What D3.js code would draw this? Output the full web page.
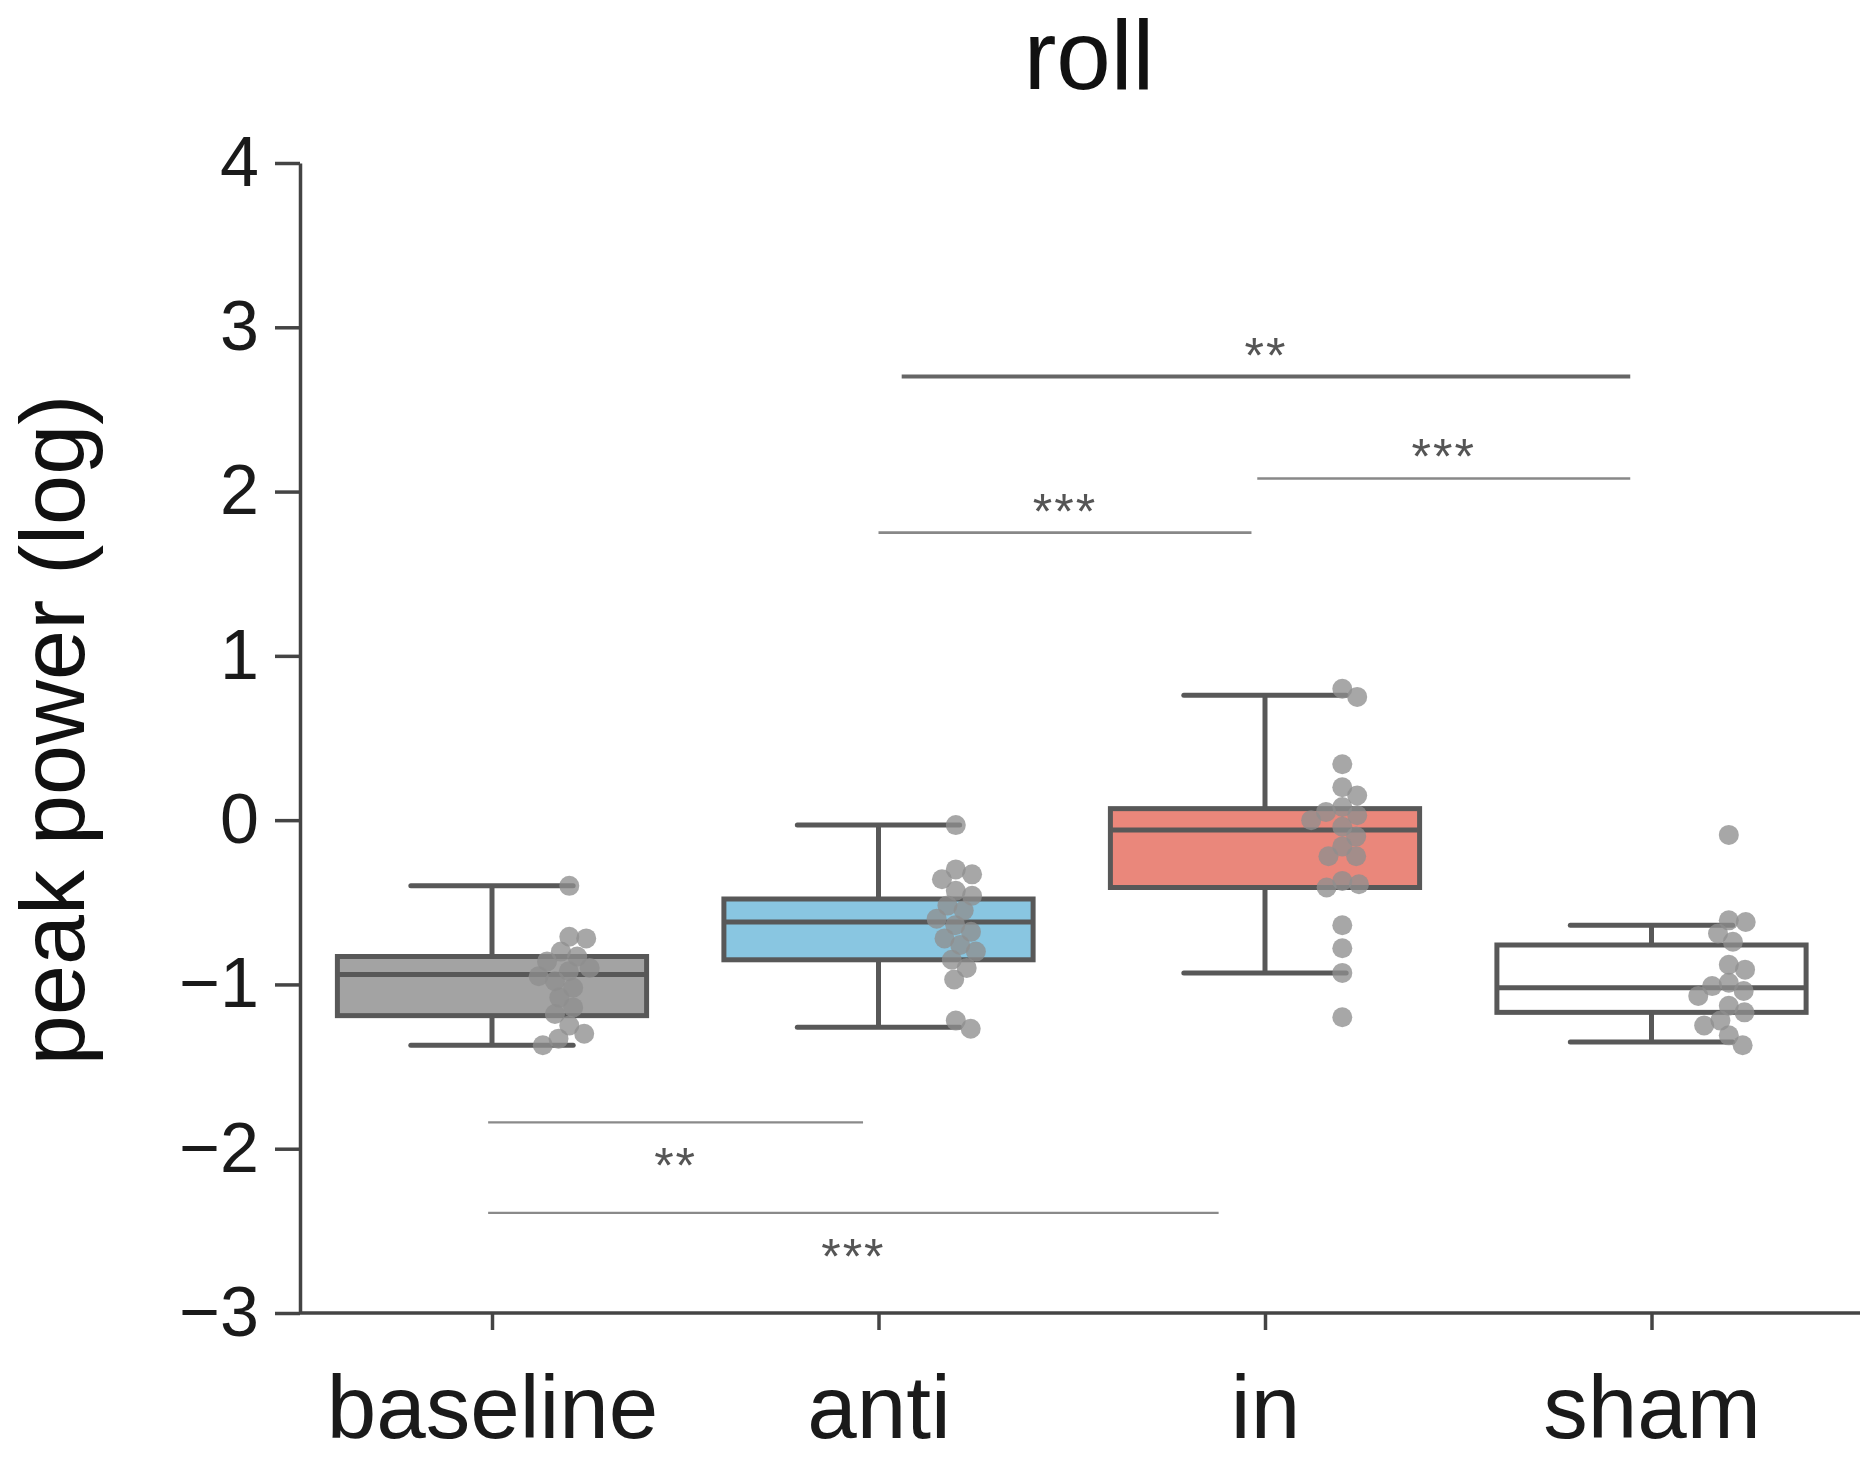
<!DOCTYPE html>
<html>
<head>
<meta charset="utf-8">
<script src="https://cdnjs.cloudflare.com/ajax/libs/d3/7.8.5/d3.min.js"></script>
<style>
    html, body { margin: 0; padding: 0; background: #fff; }
    svg text { font-family: "Liberation Sans", Arial, Helvetica, sans-serif; }
</style>
</head>
<body>
<div id="chart"></div>
<script>

//==================================//
// Data
//

const categories = ['baseline', 'anti', 'in', 'sham']

//====[ box statistics]====//
const whiskerHigh = [-0.40, -0.03, 0.76, -0.64]
const q3          = [-0.83, -0.48, 0.07, -0.76]
const median      = [-0.94, -0.62, -0.06, -1.02]
const q1          = [-1.19, -0.85, -0.41, -1.17]
const whiskerLow  = [-1.37, -1.26, -0.93, -1.35]

//====[ individual points ]====//
const ptsBaseline = [-0.40, -0.71, -0.72, -0.80, -0.83, -0.86, -0.90, -0.92, -0.95,
                     -0.98, -1.02, -1.08, -1.14, -1.18, -1.25, -1.30, -1.33, -1.37]
const ptsAnti     = [-0.03, -0.30, -0.33, -0.36, -0.43, -0.46, -0.52, -0.55, -0.60, -0.64,
                     -0.68, -0.72, -0.76, -0.80, -0.85, -0.90, -0.97, -1.22, -1.27]
const ptsIn       = [0.80, 0.75, 0.34, 0.20, 0.15, 0.08, 0.05, 0.03, 0.00, -0.04, -0.10,
                     -0.16, -0.22, -0.22, -0.37, -0.39, -0.41, -0.64, -0.78, -0.93, -1.20]
const ptsSham     = [-0.09, -0.61, -0.62, -0.69, -0.74, -0.88, -0.91, -0.99, -1.01,
                     -1.04, -1.07, -1.13, -1.17, -1.22, -1.25, -1.31, -1.37]
const points = [ptsBaseline, ptsAnti, ptsIn, ptsSham]

//====[ axis ticks ]====//
const yTicks = [-3, -2, -1, 0, 1, 2, 3, 4]

//====[ significance bars (x in category units, y in data units) ]====//
const sigFrom  = [1.06, 1.98, 1.00, -0.01, -0.01]
const sigTo    = [2.945, 2.945, 1.965, 0.96, 1.88]
const sigLevel = [2.70, 2.08, 1.75, -1.84, -2.39]
const sigLabel = ['**', '***', '***', '**', '***']


//==================================//
// Layout / style
//

const svgw = 1867, svgh = 1458
const axisLeft = 300, axisRight = 1860, axisTop = 163, axisBottom = 1313
const boxFill = ['#a3a3a3', '#89c6e1', '#ea877b', '#ffffff']
const darkGrey = '#585858'
const sigWidth = [4, 2.6, 2.6, 2.2, 2.2]
const sigColor = ['#666', '#888', '#888', '#8a8a8a', '#8a8a8a']
const dotR = 10

let svg = d3.select('#chart').append('svg')
    .attr('width', svgw)
    .attr('height', svgh)

let x = d3.scaleLinear().domain([0, 3]).range([492, 1651.5])
let y = d3.scaleLinear().domain([-3, 4]).range([axisBottom, axisTop])
let step = x(1) - x(0)

//==================================//
// Axes
//

let gx = svg.append('g')
    .attr('transform', 'translate(0,' + axisBottom + ')')
    .call(d3.axisBottom(x).tickValues([0, 1, 2, 3]).tickFormat(i => categories[i])
        .tickSize(17).tickPadding(45).tickSizeOuter(0))
gx.select('.domain').remove()
gx.insert('line', ':first-child')
    .attr('x1', axisLeft).attr('x2', axisRight)
    .attr('stroke', '#444').attr('stroke-width', 3.5)
gx.selectAll('.tick line').attr('stroke', '#444').attr('stroke-width', 3.5)
gx.selectAll('.tick text')
    .attr('font-size', 89)
    .attr('fill', '#1a1a1a')
    .attr('dy', '0.71em')

let gy = svg.append('g')
    .attr('transform', 'translate(' + axisLeft + ',0)')
    .call(d3.axisLeft(y).tickValues(yTicks).tickFormat(d => d < 0 ? '\u2212' + Math.abs(d) : d)
        .tickSize(25).tickPadding(16).tickSizeOuter(0))
gy.select('.domain').attr('stroke', '#444').attr('stroke-width', 3.5)
gy.selectAll('.tick line').attr('stroke', '#444').attr('stroke-width', 3.5)
gy.selectAll('.tick text')
    .attr('font-size', 70)
    .attr('fill', '#1a1a1a')

//====[ titles ]====//
svg.append('text')
    .attr('x', 1089).attr('y', 89)
    .attr('text-anchor', 'middle')
    .attr('font-size', 98)
    .attr('fill', '#111')
    .text('roll')

svg.append('text')
    .attr('transform', 'translate(53,730) rotate(-90)')
    .attr('text-anchor', 'middle')
    .attr('dominant-baseline', 'central')
    .attr('font-size', 90)
    .attr('fill', '#111')
    .text('peak power (log)')


//==================================//
// Boxes
//

let g_box = svg.append('g')
let boxW = 0.8 * step, capW = 0.42 * step

//====[ whiskers ]====//
g_box.selectAll('line.whiskHi')
    .data(categories)
    .enter().append('line')
    .attr('x1', (d, i) => x(i)).attr('x2', (d, i) => x(i))
    .attr('y1', (d, i) => y(q3[i])).attr('y2', (d, i) => y(whiskerHigh[i]))
    .attr('stroke', darkGrey).attr('stroke-width', 5)

g_box.selectAll('line.whiskLo')
    .data(categories)
    .enter().append('line')
    .attr('x1', (d, i) => x(i)).attr('x2', (d, i) => x(i))
    .attr('y1', (d, i) => y(q1[i])).attr('y2', (d, i) => y(whiskerLow[i]))
    .attr('stroke', darkGrey).attr('stroke-width', 5)

g_box.selectAll('line.capHi')
    .data(categories)
    .enter().append('line')
    .attr('x1', (d, i) => x(i) - capW / 2).attr('x2', (d, i) => x(i) + capW / 2)
    .attr('y1', (d, i) => y(whiskerHigh[i])).attr('y2', (d, i) => y(whiskerHigh[i]))
    .attr('stroke', darkGrey).attr('stroke-width', 5).attr('stroke-linecap', 'round')

g_box.selectAll('line.capLo')
    .data(categories)
    .enter().append('line')
    .attr('x1', (d, i) => x(i) - capW / 2).attr('x2', (d, i) => x(i) + capW / 2)
    .attr('y1', (d, i) => y(whiskerLow[i])).attr('y2', (d, i) => y(whiskerLow[i]))
    .attr('stroke', darkGrey).attr('stroke-width', 5).attr('stroke-linecap', 'round')

//====[ box + median ]====//
g_box.selectAll('rect')
    .data(categories)
    .enter().append('rect')
    .attr('x', (d, i) => x(i) - boxW / 2)
    .attr('width', boxW)
    .attr('y', (d, i) => y(q3[i]))
    .attr('height', (d, i) => y(q1[i]) - y(q3[i]))
    .attr('fill', (d, i) => boxFill[i])
    .attr('stroke', darkGrey).attr('stroke-width', 5)

g_box.selectAll('line.median')
    .data(categories)
    .enter().append('line')
    .attr('x1', (d, i) => x(i) - boxW / 2).attr('x2', (d, i) => x(i) + boxW / 2)
    .attr('y1', (d, i) => y(median[i])).attr('y2', (d, i) => y(median[i]))
    .attr('stroke', darkGrey).attr('stroke-width', 5)


//==================================//
// Swarm points
//

function swarm(values, cx, diam) {
    let placed = []
    values.map(v => ({v: v, py: y(v)}))
        .sort((a, b) => a.py - b.py)
        .forEach(p => {
            let cands = [0]
            placed.forEach(q => {
                let dy = Math.abs(q.py - p.py)
                if (dy < diam) {
                    let dx = Math.sqrt(diam * diam - dy * dy)
                    cands.push(q.dx + dx, q.dx - dx)
                }
            })
            cands.sort((a, b) => Math.abs(a) - Math.abs(b))
            for (let c of cands) {
                let ok = placed.every(q => (q.dx - c) ** 2 + (q.py - p.py) ** 2 >= diam * diam - 0.01)
                if (ok) { p.dx = c; break }
            }
            placed.push(p)
        })
    return placed.map(p => ({cx: cx + p.dx, cy: p.py}))
}

let g_pts = svg.append('g')
points.forEach((vals, i) => {
    g_pts.selectAll(null)
        .data(swarm(vals, x(i) + 0.2 * step, 17))
        .enter().append('circle')
        .attr('cx', d => d.cx)
        .attr('cy', d => d.cy)
        .attr('r', dotR)
        .attr('fill', '#8e8e8e')
        .attr('fill-opacity', 0.78)
})


//==================================//
// Significance annotations
//

let g_sig = svg.append('g')
g_sig.selectAll('line')
    .data(sigLevel)
    .enter().append('line')
    .attr('x1', (d, i) => x(sigFrom[i]))
    .attr('x2', (d, i) => x(sigTo[i]))
    .attr('y1', d => y(d)).attr('y2', d => y(d))
    .attr('stroke', (d, i) => sigColor[i])
    .attr('stroke-width', (d, i) => sigWidth[i])

g_sig.selectAll('text')
    .data(sigLevel)
    .enter().append('text')
    .attr('x', (d, i) => x((sigFrom[i] + sigTo[i]) / 2))
    .attr('y', d => d > 0 ? y(d) - 31 + 27 : y(d) + 34 + 27)
    .attr('text-anchor', 'middle')
    .attr('font-size', 50)
    .attr('fill', '#555')
    .attr('letter-spacing', 2)
    .text((d, i) => sigLabel[i])

</script>
</body>
</html>
